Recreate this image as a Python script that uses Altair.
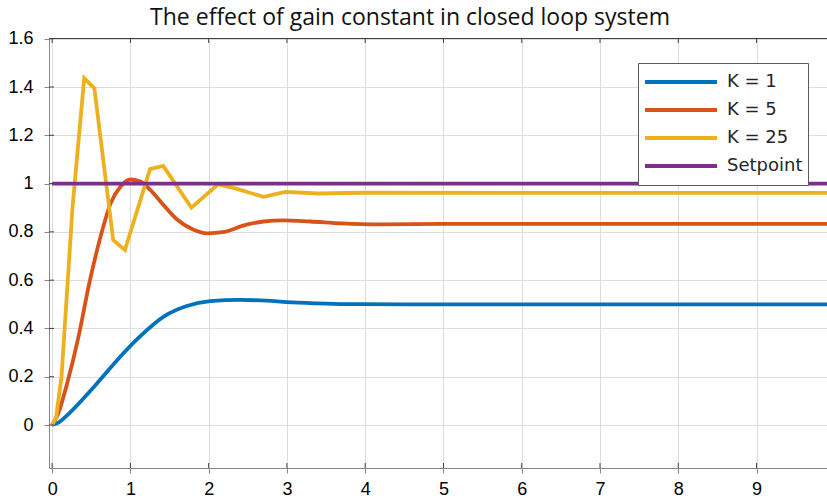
import altair as alt
import pandas as pd

# Step responses of the closed loop for three proportional gains
k1_t = [0, 0.08, 0.17, 0.42, 0.61, 0.87, 1.12, 1.44, 1.72, 2.02, 2.4, 2.74, 3.0, 3.38, 3.76, 4.5, 6, 8, 10]
k1_y = [0, 0.01, 0.034, 0.117, 0.186, 0.283, 0.366, 0.452, 0.493, 0.513, 0.518, 0.515, 0.509, 0.504, 0.501, 0.5, 0.5, 0.5, 0.5]

k5_t = [0, 0.08, 0.19, 0.34, 0.47, 0.61, 0.75, 0.88, 1.0, 1.12, 1.25, 1.4, 1.6, 1.8, 1.98, 2.2, 2.44, 2.7, 2.95, 3.3, 3.7, 4.2, 5, 10]
k5_y = [0, 0.05, 0.17, 0.37, 0.58, 0.77, 0.92, 0.99, 1.017, 1.01, 0.975, 0.92, 0.85, 0.81, 0.794, 0.80, 0.826, 0.843, 0.848, 0.843, 0.835, 0.831, 0.833, 0.833]

k25_t = [0, 0.05, 0.12, 0.26, 0.41, 0.54, 0.78, 0.93, 1.25, 1.42, 1.78, 2.12, 2.34, 2.70, 2.98, 3.4, 3.95, 10]
k25_y = [0, 0.03, 0.2, 0.9, 1.436, 1.394, 0.766, 0.725, 1.06, 1.073, 0.9, 0.997, 0.98, 0.945, 0.966, 0.959, 0.962, 0.9615]

setpoint_t = [0, 10]
setpoint_y = [1, 1]

series_names = ["K = 1", "K = 5", "K = 25", "Setpoint"]
series_colors = ["#0072BD", "#D95319", "#EDB120", "#7E2F8E"]

x_ticks = [0, 1, 2, 3, 4, 5, 6, 7, 8, 9]
y_ticks = [0, 0.2, 0.4, 0.6, 0.8, 1.0, 1.2, 1.4, 1.6]

W, H = 778, 430
AXIS_COLOR = "#404040"
FONT = "DejaVu Sans"


def frame(name, ts, ys):
    return pd.DataFrame({"t": ts, "y": ys, "series": name})


smooth = pd.concat([frame("K = 1", k1_t, k1_y), frame("K = 5", k5_t, k5_y)], ignore_index=True)
sharp = pd.concat([frame("K = 25", k25_t, k25_y), frame("Setpoint", setpoint_t, setpoint_y)], ignore_index=True)

x_scale = alt.Scale(domain=[-0.04, 9.9], nice=False, zero=False)
y_scale = alt.Scale(domain=[-0.178, 1.603], nice=False, zero=False)
color_scale = alt.Scale(domain=series_names, range=series_colors)

x_enc = alt.X("t:Q", scale=x_scale, title=None,
              axis=alt.Axis(values=x_ticks, format="d", labelPadding=7, labelFontSize=18))
y_enc = alt.Y("y:Q", scale=y_scale, title=None,
              axis=alt.Axis(values=y_ticks, format=".1~f", labelPadding=11, labelFontSize=18))

legend = alt.Legend(
    title=None, orient="none", legendX=589, legendY=25,
    symbolType="stroke", symbolSize=5184, symbolStrokeWidth=4,
    clipHeight=28, rowPadding=0, padding=5,
    labelFont=FONT, labelFontSize=18, labelColor="#262626", labelOffset=8, labelLimit=300,
    strokeColor="#5a5a5a", fillColor="white",
)

smooth_lines = alt.Chart(smooth).mark_line(strokeWidth=3.8, interpolate="monotone", clip=True).encode(
    x=x_enc, y=y_enc,
    color=alt.Color("series:N", scale=color_scale, legend=legend, sort=series_names),
)

sharp_lines = alt.Chart(sharp).mark_line(strokeWidth=3.8, clip=True).encode(
    x=x_enc, y=y_enc,
    color=alt.Color("series:N", scale=color_scale, legend=legend, sort=series_names),
)

# inward tick marks on the bottom, top and left edges of the box
xt = pd.DataFrame({"t": x_ticks})
yt = pd.DataFrame({"y": y_ticks})
bottom_ticks = alt.Chart(xt).mark_rule(color=AXIS_COLOR, strokeWidth=1).encode(
    x=alt.X("t:Q", scale=x_scale), y=alt.value(H), y2=alt.value(H - 5))
top_ticks = alt.Chart(xt).mark_rule(color=AXIS_COLOR, strokeWidth=1).encode(
    x=alt.X("t:Q", scale=x_scale), y=alt.value(0), y2=alt.value(5))
left_ticks = alt.Chart(yt).mark_rule(color=AXIS_COLOR, strokeWidth=1).encode(
    y=alt.Y("y:Q", scale=y_scale), x=alt.value(0), x2=alt.value(5))
top_edge = alt.Chart(xt).mark_rule(color=AXIS_COLOR, strokeWidth=1).encode(
    x=alt.value(0), x2=alt.value(W), y=alt.value(0.5))

chart = alt.layer(
    smooth_lines, sharp_lines, bottom_ticks, top_ticks, left_ticks, top_edge
).properties(
    width=W, height=H,
    title=alt.TitleParams(
        "The effect of gain constant in closed loop system",
        font="Open Sans", fontSize=23, fontWeight="normal", color="#111111",
        anchor="middle", dx=-28, dy=27, offset=9, baseline="alphabetic",
    ),
    autosize=alt.AutoSizeParams(type="none"),
    padding={"left": 49, "top": 38, "right": 0, "bottom": 33},
).configure_view(
    stroke=None
).configure_axis(
    domainColor=AXIS_COLOR, domainWidth=1, ticks=False,
    grid=True, gridColor="#e4e4e4", gridWidth=1,
    labelFont=FONT, labelColor="#262626",
).configure(background="white")

chart.save("out.html", embed_options={"renderer": "svg", "actions": False})
